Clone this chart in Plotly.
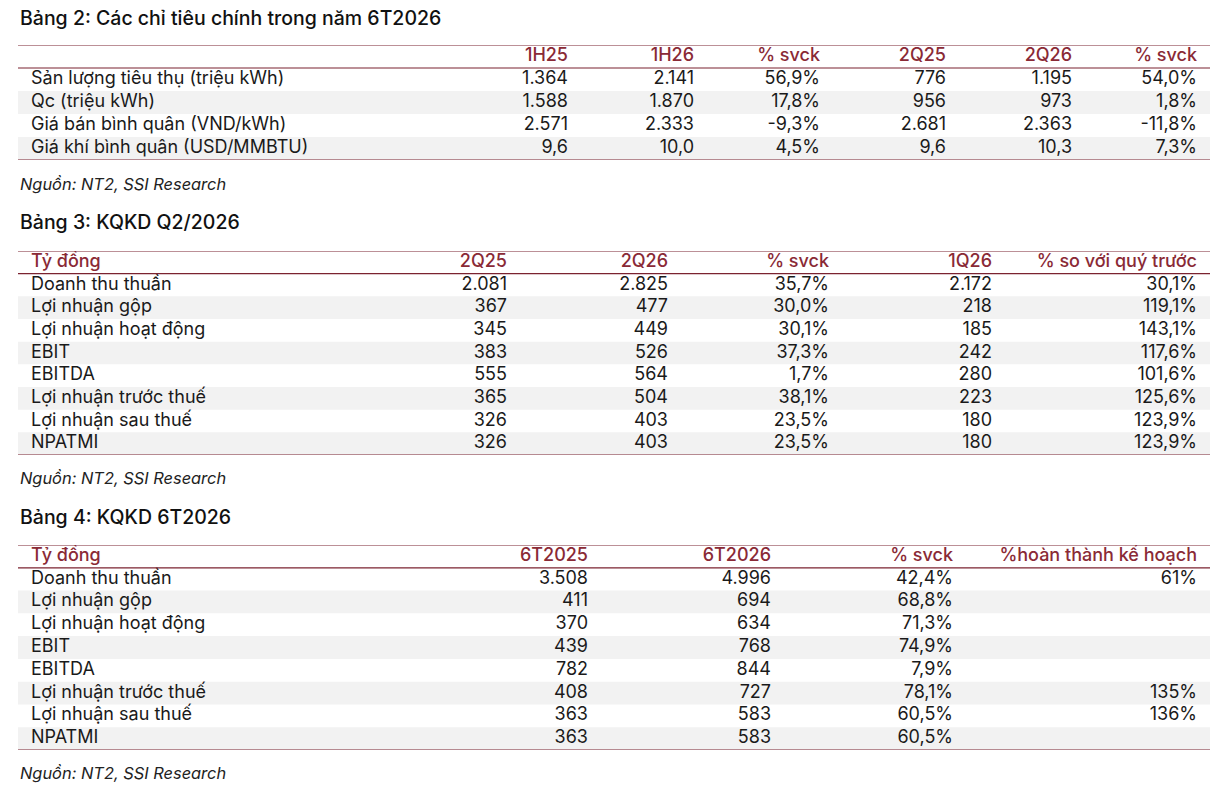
import plotly.graph_objects as go

# ---- data -------------------------------------------------------------
t2_title = "Bảng 2: Các chỉ tiêu chính trong năm 6T2026"
t2_cols = ["1H25", "1H26", "% svck", "2Q25", "2Q26", "% svck"]
t2_rows = ["Sản lượng tiêu thụ (triệu kWh)", "Qc (triệu kWh)",
           "Giá bán bình quân (VND/kWh)", "Giá khí bình quân (USD/MMBTU)"]
t2_h125 = [1364, 1588, 2571, 9.6]
t2_h126 = [2141, 1870, 2333, 10.0]
t2_h_yoy = [56.9, 17.8, -9.3, 4.5]
t2_q225 = [776, 956, 2681, 9.6]
t2_q226 = [1195, 973, 2363, 10.3]
t2_q_yoy = [54.0, 1.8, -11.8, 7.3]
t2_decimal_rows = [False, False, False, True]

t3_title = "Bảng 3: KQKD Q2/2026"
t3_cols = ["2Q25", "2Q26", "% svck", "1Q26", "% so với quý trước"]
t3_rows = ["Doanh thu thuần", "Lợi nhuận gộp", "Lợi nhuận hoạt động", "EBIT",
           "EBITDA", "Lợi nhuận trước thuế", "Lợi nhuận sau thuế", "NPATMI"]
t3_q225 = [2081, 367, 345, 383, 555, 365, 326, 326]
t3_q226 = [2825, 477, 449, 526, 564, 504, 403, 403]
t3_yoy = [35.7, 30.0, 30.1, 37.3, 1.7, 38.1, 23.5, 23.5]
t3_q126 = [2172, 218, 185, 242, 280, 223, 180, 180]
t3_qoq = [30.1, 119.1, 143.1, 117.6, 101.6, 125.6, 123.9, 123.9]

t4_title = "Bảng 4: KQKD 6T2026"
t4_cols = ["6T2025", "6T2026", "% svck", "%hoàn thành kế hoạch"]
t4_rows = t3_rows
t4_6t25 = [3508, 411, 370, 439, 782, 408, 363, 363]
t4_6t26 = [4996, 694, 634, 768, 844, 727, 583, 583]
t4_yoy = [42.4, 68.8, 71.3, 74.9, 7.9, 78.1, 60.5, 60.5]
t4_plan = [61, None, None, None, None, 135, 136, None]

unit_label = "Tỷ đồng"
source_note = "Nguồn: NT2, SSI Research"


# ---- formatting (Vietnamese style: . thousands, , decimals) ------------
def fmt_int(v):
    return f"{v:,.0f}".replace(",", ".")


def fmt_dec(v):
    return f"{v:.1f}".replace(".", ",")


def fmt_pct(v):
    return fmt_dec(v) + "%"


def fmt_pct0(v):
    return "" if v is None else f"{v:.0f}%"


def fmt_mixed(vals, dec_flags):
    return [fmt_dec(v) if d else fmt_int(v) for v, d in zip(vals, dec_flags)]


# ---- styling ----------------------------------------------------------
# the page body has an 8px margin, so the figure is 8px smaller and the
# x axis runs in page pixels from 8 to 1228
PAGE_W, PAGE_H, OFF = 1228, 790, 8
W, H = PAGE_W - OFF, PAGE_H - OFF
RED = "#8a2a36"
LINE = "#7b2330"
SHADE = "#f2f2f2"
FONT = "Inter"
SIZE = 18
LEFT, RIGHT = 18, 1210
LABEL_X = 31


def py(p):
    return 1 - (p - OFF) / H


def px(p):
    return (p - OFF) / W


fig = go.Figure()


def add_table(idx, title, title_y, top, bottom, rows, col_heads, col_x, col_text, head_label, src_y):
    xa = "x" if idx == 1 else f"x{idx}"
    ya = "y" if idx == 1 else f"y{idx}"
    n = len(rows)
    row_idx = list(range(1, n + 1))

    # shaded stripes on every second data row
    for i in row_idx:
        if i % 2 == 0:
            fig.add_shape(type="rect", xref=xa, yref=ya, x0=LEFT, x1=RIGHT,
                          y0=i - 0.5, y1=i + 0.5, fillcolor=SHADE,
                          line=dict(width=0), layer="below")
    for yy in [-0.5, 0.5, n + 0.5]:
        fig.add_shape(type="line", xref=xa, yref=ya, x0=LEFT, x1=RIGHT,
                      y0=yy, y1=yy, line=dict(color=LINE, width=1.2))

    # header row
    fig.add_trace(go.Scatter(x=[LABEL_X], y=[0], text=[head_label], mode="text",
                             textposition="middle right", xaxis=xa, yaxis=ya,
                             textfont=dict(family=FONT, size=SIZE, color=RED, weight=500),
                             hoverinfo="skip", showlegend=False))
    fig.add_trace(go.Scatter(x=col_x, y=[0] * len(col_x), text=col_heads, mode="text",
                             textposition="middle left", xaxis=xa, yaxis=ya,
                             textfont=dict(family=FONT, size=SIZE, color=RED, weight=500),
                             hoverinfo="skip", showlegend=False))
    # row labels
    fig.add_trace(go.Scatter(x=[LABEL_X] * n, y=row_idx, text=rows, mode="text",
                             textposition="middle right", xaxis=xa, yaxis=ya,
                             textfont=dict(family=FONT, size=SIZE, color="#1a1a1a"),
                             hoverinfo="skip", showlegend=False))
    # value columns
    for cx, texts in zip(col_x, col_text):
        fig.add_trace(go.Scatter(x=[cx] * n, y=row_idx, text=texts, mode="text",
                                 textposition="middle left", xaxis=xa, yaxis=ya,
                                 textfont=dict(family=FONT, size=SIZE, color="#1a1a1a"),
                                 hoverinfo="skip", showlegend=False))

    ax = dict(range=[OFF, PAGE_W], domain=[0, 1], visible=False, fixedrange=True)
    ay = dict(range=[n + 0.5, -0.5], domain=[py(bottom), py(top)],
              visible=False, fixedrange=True)
    if idx == 1:
        fig.update_layout(xaxis=ax, yaxis=ay)
    else:
        ax["anchor"] = ya
        ay["anchor"] = xa
        fig.update_layout({f"xaxis{idx}": ax, f"yaxis{idx}": ay})

    fig.add_annotation(x=px(LEFT), y=py(title_y), xref="paper", yref="paper",
                       text=title, showarrow=False, xanchor="left", yanchor="middle",
                       font=dict(family=FONT, size=19.5, color="#111111", weight=500))
    fig.add_annotation(x=px(LEFT), y=py(src_y), xref="paper", yref="paper",
                       text=source_note, showarrow=False, xanchor="left", yanchor="middle",
                       font=dict(family=FONT, size=16.4, color="#222222", style="italic"))


add_table(1, t2_title, 18, 45, 160, t2_rows, t2_cols,
          [568, 694, 820, 946, 1072, 1197],
          [fmt_mixed(t2_h125, t2_decimal_rows), fmt_mixed(t2_h126, t2_decimal_rows),
           [fmt_pct(v) for v in t2_h_yoy], fmt_mixed(t2_q225, t2_decimal_rows),
           fmt_mixed(t2_q226, t2_decimal_rows), [fmt_pct(v) for v in t2_q_yoy]],
          "", 184)

add_table(2, t3_title, 222, 251, 455, t3_rows, t3_cols,
          [507, 668, 829, 992, 1197],
          [[fmt_int(v) for v in t3_q225], [fmt_int(v) for v in t3_q226],
           [fmt_pct(v) for v in t3_yoy], [fmt_int(v) for v in t3_q126],
           [fmt_pct(v) for v in t3_qoq]],
          unit_label, 478)

add_table(3, t4_title, 517, 545, 750, t4_rows, t4_cols,
          [588, 771, 953, 1197],
          [[fmt_int(v) for v in t4_6t25], [fmt_int(v) for v in t4_6t26],
           [fmt_pct(v) for v in t4_yoy], [fmt_pct0(v) for v in t4_plan]],
          unit_label, 773)

fig.update_layout(
    width=W, height=H,
    margin=dict(l=0, r=0, t=0, b=0),
    paper_bgcolor="white", plot_bgcolor="white",
    showlegend=False,
)

fig.write_html("out.html", config={"displayModeBar": False})
